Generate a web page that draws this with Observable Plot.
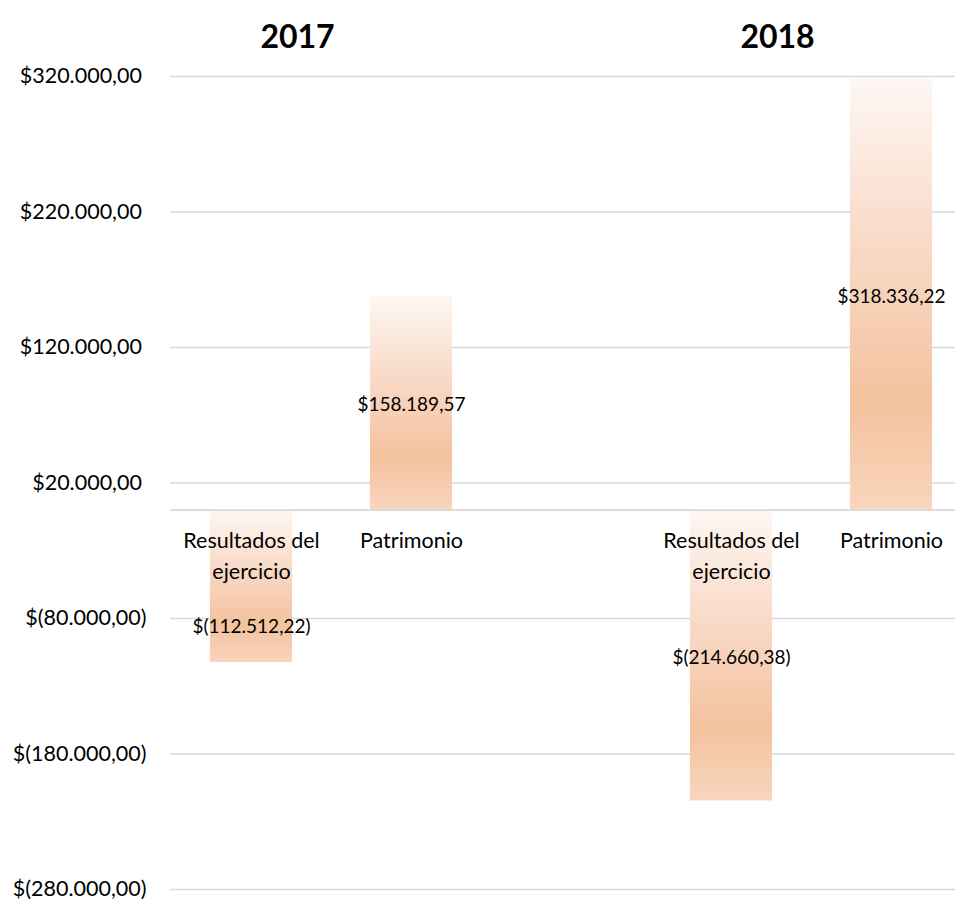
<!DOCTYPE html>
<html>
<head>
<meta charset="utf-8">
<script src="https://cdn.jsdelivr.net/npm/d3@7"></script>
<script src="https://cdn.jsdelivr.net/npm/@observablehq/plot@0.6"></script>
<style>
  html, body { margin: 0; padding: 0; background: #fff; }
  #chart svg { display: block; font-family: Lato, "Open Sans", sans-serif; }
</style>
</head>
<body>
<div id="chart"></div>
<script>
// ---- data ----
const years = ["2017", "2018"];
const categories = ["Resultados del ejercicio", "Patrimonio"];
const categoryLabels = ["Resultados del\nejercicio", "Patrimonio"];
const values2017 = [-112512.22, 158189.57];
const values2018 = [-214660.38, 318336.22];
const yTicks = [-280000, -180000, -80000, 20000, 120000, 220000, 320000];

// ---- build table ----
const seriesByYear = {"2017": values2017, "2018": values2018};
const rows = [];
years.forEach(y => categories.forEach((c, i) => rows.push({
  year: y, category: c, label: categoryLabels[i], key: `${y}|${c}`, value: seriesByYear[y][i]
})));
const gapKey = "gap";
const xDomain = [rows[0].key, rows[1].key, gapKey, rows[2].key, rows[3].key];

const locale = d3.formatLocale({decimal: ",", thousands: ".", grouping: [3], currency: ["$", ""]});
const num = locale.format(",.2f");
const money = v => v < 0 ? `$(${num(-v)})` : `$${num(v)}`;
// accounting style: positive axis labels keep room for the closing parenthesis
const moneyAxis = v => v < 0 ? money(v) : money(v) + "\u2008";

const W = 958, H = 905;
const plot = Plot.plot({
  width: W,
  height: H,
  marginLeft: 170,
  marginRight: 3,
  marginTop: 76,
  marginBottom: 16,
  style: {fontFamily: "Lato, 'Open Sans', sans-serif", background: "#fff"},
  x: {type: "band", domain: xDomain, range: [170, 972], paddingInner: 0.49, paddingOuter: 0.245, axis: null},
  y: {domain: [-280000, 320000], axis: null},
  marks: [
    Plot.ruleY(yTicks, {stroke: "#d9d9d9", strokeWidth: 1.6}),
    Plot.barY(rows, {x: "key", y: "value", fill: "url(#barGrad)"}),
    Plot.ruleY([0], {stroke: "#d9d9d9", strokeWidth: 1.6}),
    Plot.axisY({ticks: yTicks, tickFormat: moneyAxis, tickSize: 0, tickPadding: 24, fontSize: 21.5, fill: "#000", label: null}),
    Plot.text(rows, {x: "key", y: 0, text: "label", lineAnchor: "top", dy: 17, fontSize: 21.5, lineHeight: 1.4, fill: "#000"}),
    Plot.text(rows, {x: "key", y: d => d.value < 0 ? Math.min(d.value / 2, -85000) : d.value / 2,
      dy: 2, text: d => money(d.value), fontSize: 19, fill: "#000"}),
    Plot.text(rows.filter(d => d.category === categories[0]), {x: "key", frameAnchor: "top", dy: -51, dx: 46,
      text: "year", fontSize: 32, fontWeight: "bold", fill: "#000"})
  ]
});

// gradient fill like the spreadsheet's bars
const defs = d3.select(plot).insert("defs", ":first-child");
const g = defs.append("linearGradient").attr("id", "barGrad").attr("x1", 0).attr("y1", 0).attr("x2", 0).attr("y2", 1);
[[0, "#fef7f3"], [0.35, "#f9dccb"], [0.75, "#f4c29e"], [1, "#f8d5bc"]].forEach(([o, c]) =>
  g.append("stop").attr("offset", o).attr("stop-color", c));

document.getElementById("chart").appendChild(plot);
</script>
</body>
</html>
